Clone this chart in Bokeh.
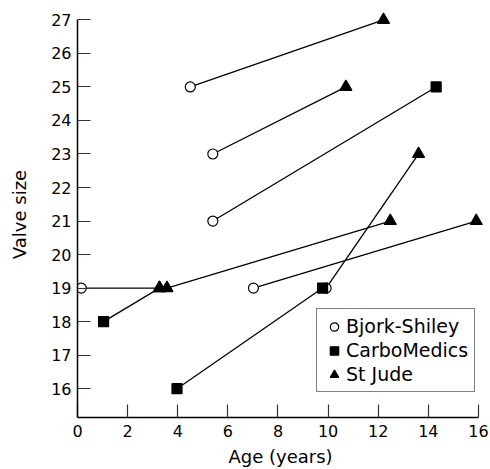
from bokeh.plotting import figure
from bokeh.models import Range1d, FixedTicker, ColumnDataSource
from bokeh.embed import file_html
from bokeh.resources import INLINE

# --- data: each line joins a first valve (start) to its replacement (end)
start_age = [4.50, 5.40, 5.40, 0.15, 1.04, 3.57, 7.02, 3.97, 9.92]
start_size = [25, 23, 21, 19, 18, 19, 19, 16, 19]
start_valve = ["Bjork-Shiley", "Bjork-Shiley", "Bjork-Shiley", "Bjork-Shiley",
               "CarboMedics", "St Jude", "Bjork-Shiley", "CarboMedics", "Bjork-Shiley"]
end_age = [12.21, 10.71, 14.31, 3.27, 3.27, 12.48, 15.91, 9.78, 13.61]
end_size = [27, 25, 25, 19, 19, 21, 21, 19, 23]
end_valve = ["St Jude", "St Jude", "CarboMedics", "St Jude", "St Jude",
             "St Jude", "St Jude", "CarboMedics", "St Jude"]

valve_types = ["Bjork-Shiley", "CarboMedics", "St Jude"]
x_ticks = [0, 2, 4, 6, 8, 10, 12, 14, 16]
y_ticks = [16, 17, 18, 19, 20, 21, 22, 23, 24, 25, 26, 27]

FONT = "DejaVu Sans"

p = figure(width=490, height=469,
           x_range=Range1d(0, 16.2), y_range=Range1d(15.14, 27.25),
           output_backend="svg", toolbar_location=None,
           min_border_left=77, min_border_right=7,
           min_border_top=11, min_border_bottom=50)
p.outline_line_color = None
p.xgrid.visible = False
p.ygrid.visible = False
p.background_fill_color = "white"
p.border_fill_color = "white"

seg = ColumnDataSource(dict(x0=start_age, y0=start_size, x1=end_age, y1=end_size))
p.segment(x0="x0", y0="y0", x1="x1", y1="y1", source=seg,
          line_color="black", line_width=1.3)

# collect points per valve type
pts = {v: ([], []) for v in valve_types}
for a, s, v in zip(start_age, start_size, start_valve):
    pts[v][0].append(a); pts[v][1].append(s)
for a, s, v in zip(end_age, end_size, end_valve):
    pts[v][0].append(a); pts[v][1].append(s)

styles = {
    "Bjork-Shiley": dict(marker="circle", size=10, fill_color="white"),
    "CarboMedics": dict(marker="square", size=10, fill_color="black"),
    "St Jude": dict(marker="triangle", size=12, fill_color="black"),
}
for v in valve_types:
    st = styles[v]
    p.scatter(x=pts[v][0], y=pts[v][1], marker=st["marker"], size=st["size"],
              fill_color=st["fill_color"], line_color="black", line_width=1.2,
              legend_label=v)

for ax in (p.xaxis[0], p.yaxis[0]):
    ax.axis_line_color = "black"
    ax.axis_line_width = 1.5
    ax.major_tick_in = 13
    ax.major_tick_out = 0
    ax.major_tick_line_color = "#333333"
    ax.major_tick_line_width = 1.2
    ax.minor_tick_line_color = None
    ax.major_label_text_font = FONT
    ax.major_label_text_font_size = "16px"
    ax.major_label_text_color = "black"
    ax.axis_label_text_font = FONT
    ax.axis_label_text_font_size = "18px"
    ax.axis_label_text_font_style = "normal"
    ax.axis_label_text_color = "black"

p.xaxis[0].ticker = FixedTicker(ticks=x_ticks)
p.yaxis[0].ticker = FixedTicker(ticks=y_ticks)
p.xaxis[0].bounds = (0, 16)
p.yaxis[0].bounds = (15.14, 27)
p.xaxis[0].axis_label = "Age (years)"
p.yaxis[0].axis_label = "Valve size"
p.xaxis[0].major_label_standoff = 7
p.xaxis[0].axis_label_standoff = 6
p.yaxis[0].major_label_standoff = 6
p.yaxis[0].axis_label_standoff = 18

p.legend.location = (239, 25)
p.legend.border_line_color = "black"
p.legend.border_line_width = 1
p.legend.background_fill_color = "white"
p.legend.background_fill_alpha = 1
p.legend.label_text_font = FONT
p.legend.label_text_font_size = "19px"
p.legend.label_text_color = "black"
p.legend.padding = 6
p.legend.spacing = 2
p.legend.glyph_width = 22
p.legend.glyph_height = 21
p.legend.label_height = 21
p.legend.label_standoff = 1
p.legend.margin = 0

open("out.html", "w").write(file_html(p, INLINE))
